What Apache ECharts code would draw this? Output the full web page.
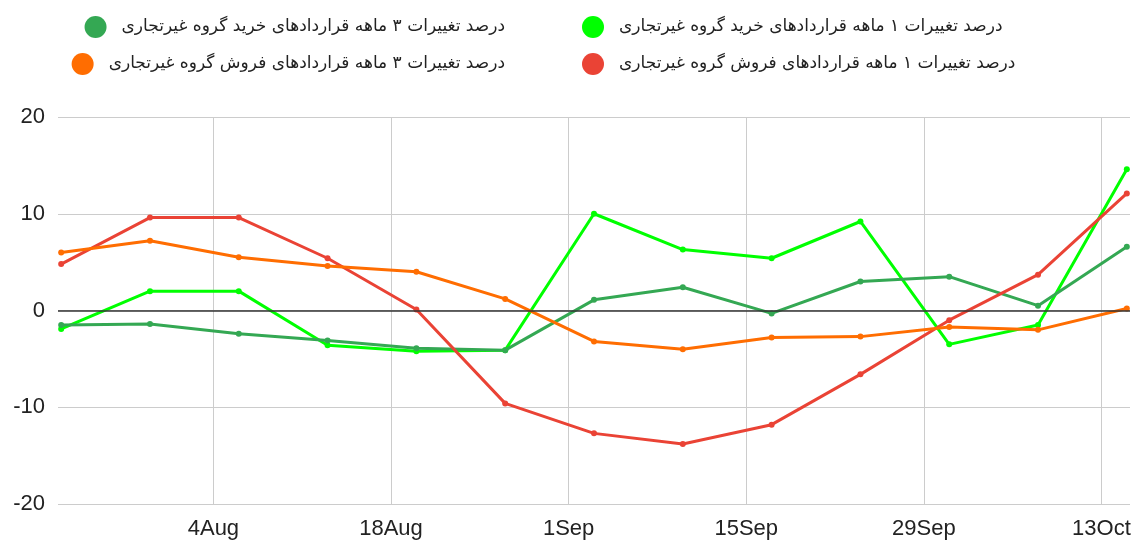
<!DOCTYPE html>
<html>
<head>
<meta charset="utf-8">
<script src="https://cdn.jsdelivr.net/npm/echarts@6/dist/echarts.min.js"></script>
<style>
  html, body { margin: 0; padding: 0; background: #fff; }
  #chart { width: 1137px; height: 545px; }
</style>
</head>
<body>
<div id="chart"></div>
<script>
// weekly observations
const dates = ['2024-07-23', '2024-07-30', '2024-08-06', '2024-08-13', '2024-08-20', '2024-08-27',
  '2024-09-03', '2024-09-10', '2024-09-17', '2024-09-24', '2024-10-01', '2024-10-08', '2024-10-15'];

const buy1m = [-1.9, 2.0, 2.0, -3.6, -4.2, -4.1, 10.0, 6.3, 5.4, 9.2, -3.5, -1.5, 14.6];
const buy3m = [-1.5, -1.4, -2.4, -3.1, -3.9, -4.1, 1.1, 2.4, -0.3, 3.0, 3.5, 0.5, 6.6];
const sell1m = [4.8, 9.6, 9.6, 5.4, 0.1, -9.6, -12.7, -13.8, -11.8, -6.6, -1.0, 3.7, 12.1];
const sell3m = [6.0, 7.2, 5.5, 4.6, 4.0, 1.2, -3.2, -4.0, -2.8, -2.7, -1.7, -2.0, 0.2];

const tickDates = ['2024-08-04', '2024-08-18', '2024-09-01', '2024-09-15', '2024-09-29', '2024-10-13'];
const tickLabels = ['4Aug', '18Aug', '1Sep', '15Sep', '29Sep', '13Oct'];

const names = {
  buy1m: 'درصد تغییرات ۱ ماهه قراردادهای خرید گروه غیرتجاری',
  buy3m: 'درصد تغییرات ۳ ماهه قراردادهای خرید گروه غیرتجاری',
  sell1m: 'درصد تغییرات ۱ ماهه قراردادهای فروش گروه غیرتجاری',
  sell3m: 'درصد تغییرات ۳ ماهه قراردادهای فروش گروه غیرتجاری'
};

const day0 = Date.parse(dates[0]);
const toDay = d => (Date.parse(d) - day0) / 864e5;
const xs = dates.map(toDay);
const tickDays = tickDates.map(toDay);

function pairs(vals) {
  return vals.map((v, i) => [xs[i], v]);
}

function makeSeries(name, color, vals) {
  return {
    name: name,
    type: 'line',
    data: pairs(vals),
    symbol: 'circle',
    symbolSize: 6,
    lineStyle: { width: 3, color: color },
    itemStyle: { color: color },
    emphasis: { disabled: true },
    animation: false
  };
}

function legendAt(name, pos, top) {
  return Object.assign({
    top: top,
    data: [name],
    icon: 'circle',
    itemWidth: 22,
    itemHeight: 22,
    padding: 0,
    selectedMode: false,
    textStyle: {
      fontFamily: 'DejaVu Sans',
      fontSize: 17,
      color: '#222',
      padding: [0, 0, 0, 10]
    }
  }, pos);
}

const chart = echarts.init(document.getElementById('chart'));

const series = [
  makeSeries(names.buy1m, '#00ff00', buy1m),
  makeSeries(names.buy3m, '#34a853', buy3m),
  makeSeries(names.sell1m, '#ea4335', sell1m),
  makeSeries(names.sell3m, '#ff6d01', sell3m)
];
series[0].markLine = {
  silent: true,
  symbol: 'none',
  label: { show: false },
  lineStyle: { color: '#333', width: 1.5, type: 'solid' },
  data: [{ yAxis: 0 }]
};

chart.setOption({
  backgroundColor: '#fff',
  animation: false,
  legend: [
    legendAt(names.buy3m, { right: 632 }, 16),
    legendAt(names.sell3m, { right: 632 }, 53),
    legendAt(names.buy1m, { left: 582 }, 16),
    legendAt(names.sell1m, { left: 582 }, 53)
  ],
  grid: {
    left: 58,
    right: 7,
    top: 117,
    bottom: 41
  },
  xAxis: {
    type: 'value',
    min: -0.25,
    max: 84.25,
    axisLine: { show: false },
    axisTick: { show: false, customValues: tickDays },
    axisLabel: {
      customValues: tickDays,
      formatter: v => tickLabels[tickDays.indexOf(v)] || '',
      fontFamily: 'Liberation Sans',
      fontSize: 22,
      color: '#222',
      margin: 14
    },
    splitLine: { show: true, lineStyle: { color: '#ccc', width: 1 } }
  },
  yAxis: {
    type: 'value',
    min: -20,
    max: 20,
    interval: 10,
    axisLine: { show: false },
    axisTick: { show: false },
    axisLabel: {
      fontFamily: 'Liberation Sans',
      fontSize: 22,
      color: '#222',
      margin: 13
    },
    splitLine: { lineStyle: { color: '#ccc', width: 1 } }
  },
  series: series
});
</script>
</body>
</html>
